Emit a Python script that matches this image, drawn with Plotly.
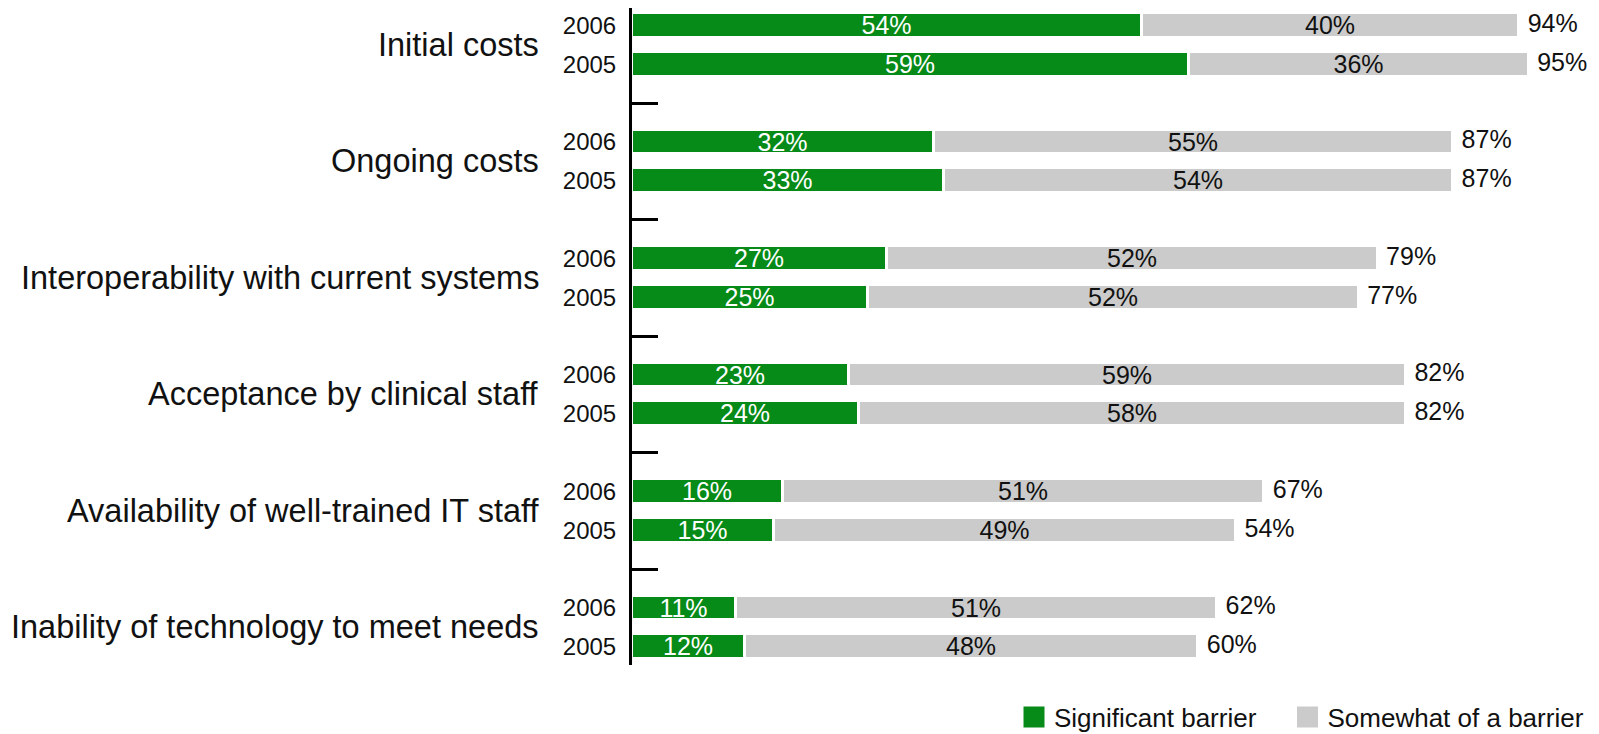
import plotly.graph_objects as go

categories = ["Initial costs", "Ongoing costs", "Interoperability with current systems",
              "Acceptance by clinical staff", "Availability of well-trained IT staff",
              "Inability of technology to meet needs"]
years = ["2006", "2005"]
sig_2006 = [54, 32, 27, 23, 16, 11]
some_2006 = [40, 55, 52, 59, 51, 51]
total_2006 = ["94%", "87%", "79%", "82%", "67%", "62%"]
sig_2005 = [59, 33, 25, 24, 15, 12]
some_2005 = [36, 54, 52, 58, 49, 48]
total_2005 = ["95%", "87%", "77%", "82%", "54%", "60%"]
series_names = ["Significant barrier", "Somewhat of a barrier"]

GREEN = "#068a18"
GRAY = "#cbcbcb"
FONT = "Liberation Sans, Arial, sans-serif"

# build row order: per category 2006 then 2005, with a spacer slot after
pos, sig, some, tot, ylab = [], [], [], [], []
for g in range(len(categories)):
    for k, (s, o, t) in enumerate([(sig_2006[g], some_2006[g], total_2006[g]),
                                   (sig_2005[g], some_2005[g], total_2005[g])]):
        pos.append(3 * g + k)
        sig.append(s)
        some.append(o)
        tot.append(t)
        ylab.append(years[k])
sep_pos = [3 * g + 2 for g in range(len(categories) - 1)]
cat_pos = [3 * g + 0.5 for g in range(len(categories))]

fig = go.Figure()
fig.add_trace(go.Bar(
    y=pos, x=sig, orientation="h", name=series_names[0], showlegend=False,
    marker=dict(color=GREEN, line=dict(color="white", width=3)),
    width=0.64, text=[f"{v}%" for v in sig], textposition="inside",
    insidetextanchor="middle", textangle=0, constraintext="none",
    textfont=dict(color="white", size=25, family=FONT), hoverinfo="skip"))
fig.add_trace(go.Bar(
    y=pos, x=some, orientation="h", name=series_names[1], showlegend=False,
    marker=dict(color=GRAY, line=dict(color="white", width=3)),
    width=0.64, text=[f"{v}%" for v in some], textposition="inside",
    insidetextanchor="middle", textangle=0, constraintext="none",
    textfont=dict(color="#111111", size=25, family=FONT), hoverinfo="skip"))
fig.add_trace(go.Scatter(
    y=pos, x=[a + b for a, b in zip(sig, some)], mode="text", text=tot,
    texttemplate="\u2004%{text}",
    textposition="middle right", cliponaxis=False, showlegend=False,
    textfont=dict(color="#111111", size=25, family=FONT), hoverinfo="skip"))
# legend entries (one legend box per series for exact placement)
for nm, col, lg in zip(series_names, [GREEN, GRAY], ["legend", "legend2"]):
    fig.add_trace(go.Scatter(
        x=[None], y=[None], mode="markers", name=nm, legend=lg,
        marker=dict(symbol="square", size=16, color=col, line=dict(color=col, width=5))))
# separator ticks axis
fig.add_trace(go.Scatter(x=[None], y=[None], yaxis="y2", showlegend=False, hoverinfo="skip"))

for c, p in zip(categories, cat_pos):
    fig.add_annotation(text=c, xref="paper", x=0, xanchor="right", xshift=-91,
                       yref="y", y=p, yanchor="middle", showarrow=False,
                       font=dict(size=32.5, color="#111111", family=FONT))

legend_common = dict(orientation="h", xref="container", yref="container",
                     xanchor="left", y=1 - 717 / 734, yanchor="middle",
                     font=dict(size=26, color="#111111", family=FONT),
                     bgcolor="rgba(0,0,0,0)", itemclick=False)

yrange = [16.47, -0.453]
fig.update_layout(
    width=1599, height=734,
    margin=dict(l=632, r=23, t=8, b=69),
    barmode="stack", bargap=0,
    plot_bgcolor="white", paper_bgcolor="white",
    font=dict(family=FONT, color="#111111"),
    xaxis=dict(range=[0, 100], visible=False),
    yaxis=dict(range=yrange, tickvals=pos, ticktext=ylab, ticks="",
               showline=True, linewidth=3, linecolor="black", showgrid=False,
               zeroline=False, ticklabelstandoff=8,
               tickfont=dict(size=24, color="#111111", family=FONT)),
    yaxis2=dict(range=yrange, overlaying="y", side="left", anchor="x",
                tickvals=sep_pos, ticks="inside", ticklen=26, tickwidth=2.5,
                tickcolor="black", showticklabels=False, showline=False,
                showgrid=False, zeroline=False),
    legend=dict(x=1014 / 1599, **legend_common),
    legend2=dict(x=1287.5 / 1599, **legend_common),
)

fig.write_html("out.html")
